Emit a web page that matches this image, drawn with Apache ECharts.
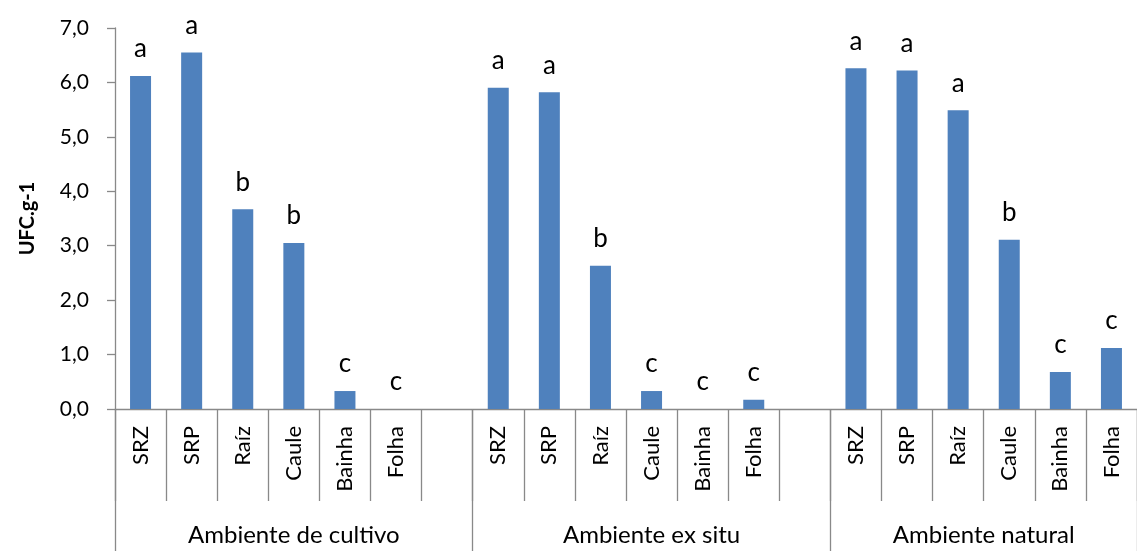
<!DOCTYPE html>
<html>
<head>
<meta charset="utf-8">
<script src="https://cdn.jsdelivr.net/npm/echarts@6/dist/echarts.min.js"></script>
<style>
html,body{margin:0;padding:0;background:#fff;}
#chart{width:1137px;height:551px;}
</style>
</head>
<body>
<div id="chart"></div>
<script>
// ---- data ----
var groups = ['Ambiente de cultivo', 'Ambiente ex situ', 'Ambiente natural'];
var parts = ['SRZ', 'SRP', 'Raíz', 'Caule', 'Bainha', 'Folha'];
var cultivoValues = [6.12, 6.55, 3.67, 3.05, 0.33, 0.0];
var exSituValues = [5.90, 5.82, 2.63, 0.33, 0.0, 0.17];
var naturalValues = [6.26, 6.22, 5.49, 3.11, 0.68, 1.12];
var cultivoLetters = ['a', 'a', 'b', 'b', 'c', 'c'];
var exSituLetters = ['a', 'a', 'b', 'c', 'c', 'c'];
var naturalLetters = ['a', 'a', 'a', 'b', 'c', 'c'];
var yTicks = [0, 1, 2, 3, 4, 5, 6, 7];

// ---- build category slots (each group followed by an empty gap slot, except last) ----
var cats = [], vals = [], letters = [];
var allVals = [cultivoValues, exSituValues, naturalValues];
var allLetters = [cultivoLetters, exSituLetters, naturalLetters];
var groupStart = [];
for (var g = 0; g < groups.length; g++) {
  groupStart.push(cats.length);
  for (var i = 0; i < parts.length; i++) {
    cats.push(parts[i]);
    vals.push(allVals[g][i]);
    letters.push(allLetters[g][i]);
  }
  if (g < groups.length - 1) { cats.push(''); vals.push('-'); letters.push(''); }
}
var nSlots = cats.length;
var groupEnd = groupStart.slice(1).concat([nSlots]);
// half-slot positions for the group level axis
var halfCats = [];
for (var k = 0; k <= nSlots * 2; k++) halfCats.push(String(k));
var groupLabelAt = {}, groupTickAt = {};
for (var g = 0; g < groups.length; g++) {
  groupLabelAt[groupStart[g] + groupEnd[g]] = groups[g];
  groupTickAt[groupStart[g] * 2] = true;
}
groupTickAt[nSlots * 2] = true;

var FONT = 'Lato, "Open Sans", sans-serif';
var AXIS = '#898989';

var chart = echarts.init(document.getElementById('chart'));
chart.setOption({
  animation: false,
  grid: { left: 115, top: 28, right: -8, bottom: 142, containLabel: false },
  xAxis: [
    {
      type: 'category',
      data: cats,
      position: 'bottom',
      boundaryGap: true,
      axisLine: { show: true, lineStyle: { color: AXIS, width: 1.3 } },
      axisTick: { show: true, interval: 0, length: 92, lineStyle: { color: AXIS, width: 1.3 } },
      axisLabel: { interval: 0, rotate: 90, margin: 17, color: '#000', fontSize: 22, fontFamily: FONT },
      splitLine: { show: false }
    },
    {
      type: 'category',
      data: halfCats,
      position: 'bottom',
      boundaryGap: false,
      axisLine: { show: false },
      axisTick: {
        show: true, length: 150,
        interval: function (idx) { return !!groupTickAt[idx]; },
        lineStyle: { color: AXIS, width: 1.3 }
      },
      axisLabel: {
        show: true, margin: 114, color: '#000', fontSize: 24, fontFamily: FONT,
        interval: function (idx) { return groupLabelAt[idx] !== undefined; },
        formatter: function (v, idx) { return groupLabelAt[idx] || ''; }
      },
      splitLine: { show: false }
    }
  ],
  yAxis: {
    type: 'value',
    min: yTicks[0],
    max: yTicks[yTicks.length - 1],
    interval: 1,
    name: 'UFC.g-1',
    nameLocation: 'middle',
    nameGap: 77,
    nameTextStyle: { fontSize: 20, fontWeight: 'bold', color: '#000', fontFamily: FONT },
    axisLine: { show: true, lineStyle: { color: AXIS, width: 1.3 } },
    axisTick: { show: true, inside: false, length: 8, lineStyle: { color: AXIS, width: 1.3 } },
    axisLabel: {
      margin: 26, color: '#000', fontSize: 21, fontFamily: FONT,
      formatter: function (v) { return v.toFixed(1).replace('.', ','); }
    },
    splitLine: { show: false }
  },
  series: [{
    type: 'bar',
    xAxisIndex: 0,
    data: vals,
    barWidth: 21,
    itemStyle: { color: '#4F81BD' },
    label: {
      show: true, position: 'top', distance: 14,
      color: '#000', fontSize: 26, fontFamily: FONT,
      formatter: function (p) { return letters[p.dataIndex]; }
    }
  }]
});
</script>
</body>
</html>
